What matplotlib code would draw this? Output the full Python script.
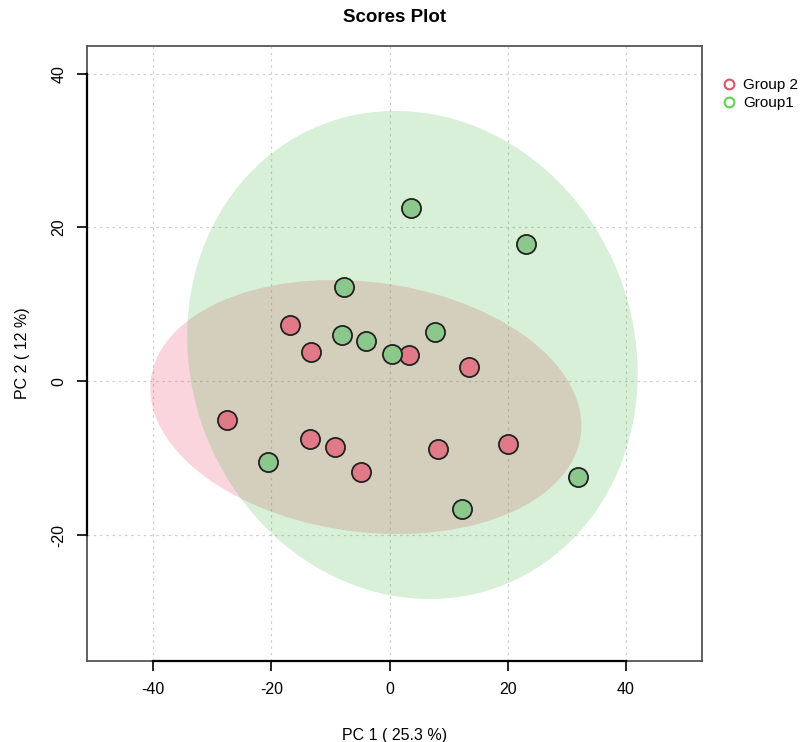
import numpy as np
import matplotlib
matplotlib.use("Agg")
import matplotlib.pyplot as plt
from matplotlib.patches import Ellipse
from matplotlib.lines import Line2D

plt.rcParams['font.family'] = ['Liberation Sans', 'DejaVu Sans']
plt.rcParams['axes.unicode_minus'] = False

# scores per group
group2_pc1 = [-16.8, -13.3, 3.3, 13.4, -27.5, -13.4, -9.2, -4.8, 8.2, 20.0]
group2_pc2 = [7.3, 3.8, 3.4, 1.9, -5.0, -7.5, -8.6, -11.8, -8.8, -8.2]
group1_pc1 = [3.6, 23.1, -7.7, -8.0, -4.0, 0.4, 7.7, -20.5, 12.3, 31.9]
group1_pc2 = [22.5, 17.8, 12.3, 6.0, 5.2, 3.5, 6.4, -10.5, -16.6, -12.4]

group_names = ['Group 2', 'Group1']
x_ticks = [-40, -20, 0, 20, 40]
y_ticks = [-20, 0, 20, 40]

point_colors = ['#E07A88', '#8CC88C']
ellipse_colors = ['#E8305A', '#3CB43C']
legend_colors = ['#DF536B', '#61D04F']
CHI2_95 = 5.991  # chi-square 95% quantile, 2 dof


def conf_ellipse(x, y, color):
    x = np.asarray(x)
    y = np.asarray(y)
    cov = np.cov(x, y)
    vals, vecs = np.linalg.eigh(cov)
    order = vals.argsort()[::-1]
    vals, vecs = vals[order], vecs[:, order]
    angle = np.degrees(np.arctan2(vecs[1, 0], vecs[0, 0]))
    w, h = 2 * np.sqrt(vals * CHI2_95)
    return Ellipse((x.mean(), y.mean()), w, h, angle=angle,
                   facecolor=color, alpha=0.2, edgecolor='none', zorder=1)


fig = plt.figure(figsize=(8.06, 7.42), dpi=100)
ax = fig.add_axes([0.108, 0.109, 0.763, 0.829])

groups = [(group2_pc1, group2_pc2), (group1_pc1, group1_pc2)]
for (gx, gy), ec in zip(groups, ellipse_colors):
    ax.add_patch(conf_ellipse(gx, gy, ec))

for (gx, gy), pc in zip(groups, point_colors):
    ax.scatter(gx, gy, s=190, facecolor=pc, edgecolor='#222222',
               linewidth=1.3, zorder=3)

ax.set_xlim(-51.2, 52.9)
ax.set_ylim(-36.4, 43.6)
ax.set_xticks(x_ticks)
ax.set_yticks(y_ticks)
ax.set_yticklabels([str(t) for t in y_ticks], rotation=90, va='center')
ax.tick_params(direction='out', length=7, width=1.2, labelsize=11.5,
               pad=8, color='black')
ax.grid(True, linestyle=(0, (2, 3)), color='#d0d0d0', linewidth=0.9, zorder=0)
ax.set_axisbelow(True)
for sp in ax.spines.values():
    sp.set_color('#555555')
    sp.set_linewidth(1.3)

# black axis lines over the tick range, R style
ax.plot([x_ticks[0], x_ticks[-1]], [-36.4, -36.4], color='black', lw=1.6,
        clip_on=False, zorder=5)
ax.plot([-51.2, -51.2], [y_ticks[0], y_ticks[-1]], color='black', lw=1.6,
        clip_on=False, zorder=5)

ax.set_title('Scores Plot', fontsize=13.5, fontweight='bold', pad=17)
ax.set_xlabel('PC 1 ( 25.3 %)', fontsize=11.5, labelpad=22)
ax.set_ylabel('PC 2 ( 12 %)', fontsize=11.5, labelpad=15)

handles = [Line2D([], [], marker='o', linestyle='none', markerfacecolor='none',
                  markeredgecolor=c, markeredgewidth=1.5, markersize=7)
           for c in legend_colors]
fig.legend(handles, group_names, loc='upper left', bbox_to_anchor=(0.888, 0.905),
           frameon=False, fontsize=11, handletextpad=0.5, borderpad=0,
           labelspacing=0.25, handlelength=0.8)

fig.savefig('out.png', dpi=100)
